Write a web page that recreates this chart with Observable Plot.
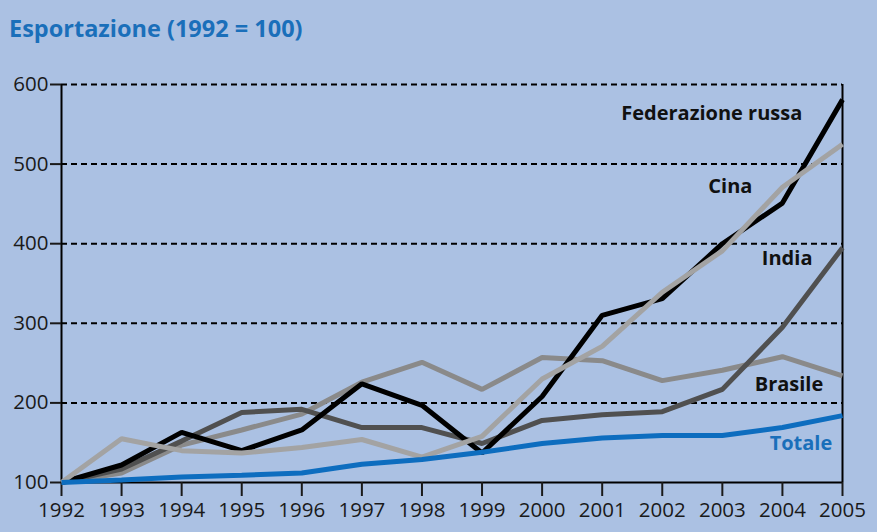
<!DOCTYPE html>
<html>
<head>
<meta charset="utf-8">
<script src="https://cdn.jsdelivr.net/npm/d3@7"></script>
<script src="https://cdn.jsdelivr.net/npm/@observablehq/plot@0.6"></script>
<style>
  html, body { margin: 0; padding: 0; background: #abc1e3; }
  #wrap { width: 877px; height: 532px; background: #abc1e3; overflow: hidden; }
  #title { height: 50px; box-sizing: border-box; padding: 12px 0 0 9px; font-family: "Open Sans", sans-serif; font-weight: 700; font-size: 23.5px; color: #1a6fba; line-height: 32px; }
  svg { display: block; }
</style>
</head>
<body>
<div id="wrap">
  <div id="title">Esportazione (1992 = 100)</div>
  <div id="chart"></div>
</div>
<script>
const years = [1992,1993,1994,1995,1996,1997,1998,1999,2000,2001,2002,2003,2004,2005];
const russia  = [100,122,163,140,166,224,197,137,208,310,331,400,451,581];
const cina    = [100,155,140,137,144,154,132,158,230,271,339,391,471,525];
const india   = [100,117,152,188,192,169,169,149,178,185,189,217,295,395];
const brasile = [100,112,147,166,186,226,251,217,257,253,228,241,258,234];
const totale  = [100,103,107,109,112,123,129,138,149,156,159,159,169,184];

const seriesNames  = ["Brasile", "India", "Federazione russa", "Cina", "Totale"];
const seriesValues = [brasile, india, russia, cina, totale];
const seriesColors = ["#8a8a8a", "#505050", "#000000", "#a3a3a3", "#0d6dbf"];

const yTicks = [100, 200, 300, 400, 500, 600];
const gridTicks = [200, 300, 400, 500, 600];

const labelNames  = ["Federazione russa", "Cina", "India", "Brasile", "Totale"];
const labelYears  = [2004.33, 2003.5, 2004.5, 2004.68, 2004.83];
const labelValues = [563, 472, 381, 223, 149];
const labelColors = ["#111111", "#111111", "#111111", "#111111", "#1a6fba"];

const data = seriesNames.flatMap((name, s) =>
  years.map((year, i) => ({ name, year, value: seriesValues[s][i] })));
const labels = labelNames.map((name, i) => ({ name, year: labelYears[i], value: labelValues[i], color: labelColors[i] }));

const chart = Plot.plot({
  width: 877,
  height: 482,
  marginTop: 34,
  marginBottom: 50,
  marginLeft: 61,
  marginRight: 35,
  style: { fontFamily: "'Open Sans', sans-serif", background: "transparent", color: "#1a1a1a" },
  x: { type: "linear", domain: [1992, 2005] },
  y: { domain: [100, 600] },
  color: { domain: seriesNames, range: seriesColors },
  marks: [
    Plot.ruleY(gridTicks, { stroke: "#000", strokeWidth: 2, strokeDasharray: "6,4" }),
    Plot.ruleX([1992, 2005], { y1: 100, y2: 600, stroke: "#000", strokeWidth: 2 }),
    Plot.ruleY([100], { stroke: "#000", strokeWidth: 2 }),
    Plot.axisY({ ticks: yTicks, tickSize: 11, tickPadding: 2, fontSize: 20.5, strokeWidth: 2, label: null, fill: "#1a1a1a" }),
    Plot.axisX({ ticks: years, tickSize: 14, tickPadding: 6, fontSize: 20.5, strokeWidth: 2, label: null, tickFormat: d => String(d), fill: "#1a1a1a" }),
    Plot.line(data, { x: "year", y: "value", z: "name", stroke: "name", strokeWidth: 5, strokeLinejoin: "miter", strokeLinecap: "butt" }),
    Plot.text(labels, { x: "year", y: "value", text: "name", fill: "color", textAnchor: "end", fontSize: 20, fontWeight: 700 })
  ]
});
document.getElementById("chart").appendChild(chart);
</script>
</body>
</html>
